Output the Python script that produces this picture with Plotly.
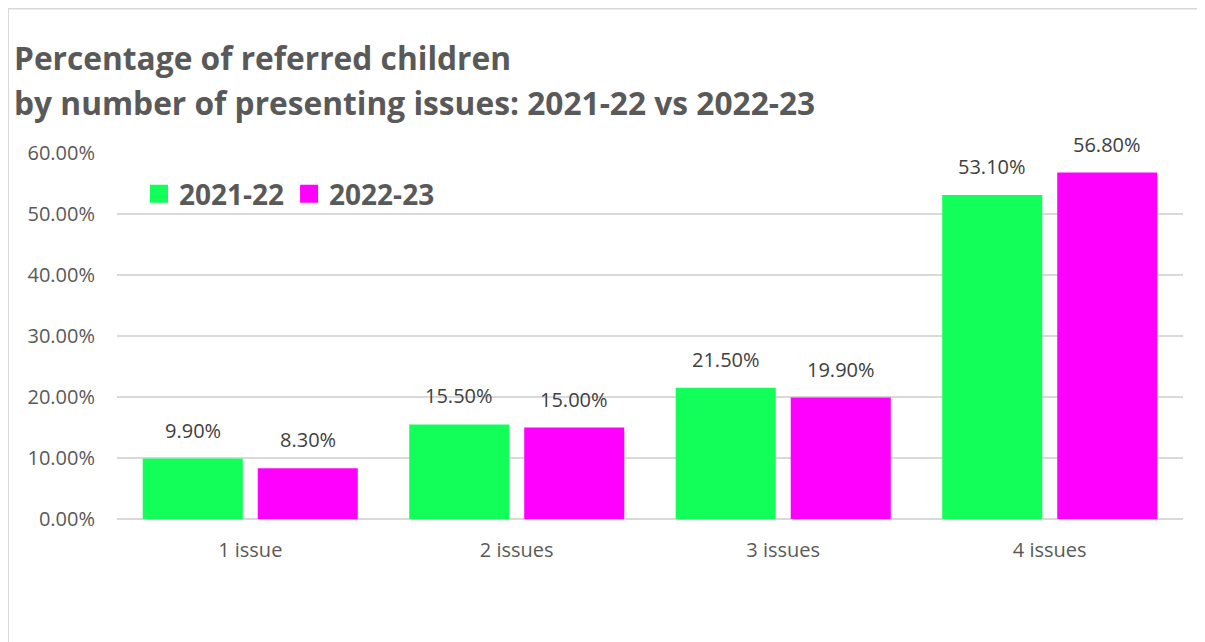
import plotly.graph_objects as go

categories = ["1 issue", "2 issues", "3 issues", "4 issues"]
series_names = ["2021-22", "2022-23"]
values_2021_22 = [9.9, 15.5, 21.5, 53.1]
values_2022_23 = [8.3, 15.0, 19.9, 56.8]
colors = ["#12FF5A", "#FF00FF"]
title_lines = ["Percentage of referred children",
               "by number of presenting issues: 2021-22 vs 2022-23"]

W, H = 1205, 642
OFF = 8  # page body offset
L, R, T, B = 117 - OFF, 30, 153 - OFF, 642 - (519 - OFF)
pw, ph = W - L - R, H - T - B

def px_x(p):  # page px -> paper
    return (p - OFF - L) / pw

def px_y(p):
    return (H - B - (p - OFF)) / ph

FONT = "Open Sans"
BARGAP, GROUPGAP = 0.137, 0.13
cat_w = pw / len(categories)
slot = (1 - BARGAP) * cat_w / 2

fig = go.Figure()
all_vals = [values_2021_22, values_2022_23]
for i, (name, vals, col) in enumerate(zip(series_names, all_vals, colors)):
    fig.add_trace(go.Bar(
        x=categories, y=vals, name=name, showlegend=False,
        marker=dict(color=col, line=dict(width=0)),
    ))
for name, col in zip(series_names, colors):
    fig.add_trace(go.Scatter(
        x=[categories[0]], y=[None], name=name, mode="markers",
        marker=dict(symbol="square", size=16, color=col, line=dict(color=col, width=2)),
        hoverinfo="skip",
    ))

annotations = []
for i, vals in enumerate(all_vals):
    shift = (i - 0.5) * slot
    for c, v in zip(categories, vals):
        annotations.append(dict(
            x=c, y=v, xref="x", yref="y", text=f"{v:.2f}%", showarrow=False,
            xanchor="center", yanchor="bottom", xshift=shift, yshift=13,
            font=dict(family=FONT, size=20, color="#404040"),
        ))
title_baselines = [70, 115]
for line, base in zip(title_lines, title_baselines):
    annotations.append(dict(
        x=px_x(12), y=px_y(base + 11), xref="paper", yref="paper", text=f"<b>{line}</b>",
        showarrow=False, xanchor="left", yanchor="bottom",
        font=dict(family=FONT, size=31.7, color="#595959"),
    ))

fig.update_layout(
    width=W, height=H,
    margin=dict(l=L, r=R, t=T, b=B),
    paper_bgcolor="white", plot_bgcolor="white",
    barmode="group", bargap=BARGAP, bargroupgap=GROUPGAP,
    annotations=annotations,
    legend=dict(
        orientation="h", x=px_x(139), y=px_y(194), xanchor="left", yanchor="middle",
        font=dict(family=FONT, size=28, color="#595959", weight="bold"),
        bgcolor="rgba(0,0,0,0)", itemsizing="trace", traceorder="normal",
    ),
    xaxis=dict(
        showgrid=False, showline=False, ticks="",
        tickfont=dict(family=FONT, size=20, color="#595959"),
        ticklabelstandoff=17,
    ),
    yaxis=dict(
        range=[0, 60], dtick=10, tickformat=".2f", ticksuffix="%",
        showgrid=True, gridcolor="#D9D9D9", gridwidth=1.5,
        zeroline=True, zerolinecolor="#D9D9D9", zerolinewidth=1.5,
        tickfont=dict(family=FONT, size=20, color="#595959"),
        ticklabelstandoff=21,
    ),
    shapes=[
        dict(type="line", xref="paper", yref="paper",
             x0=px_x(8), x1=px_x(8), y0=px_y(8.5), y1=px_y(660),
             line=dict(color="#D9D9D9", width=2)),
        dict(type="line", xref="paper", yref="paper",
             x0=px_x(8), x1=px_x(1220), y0=px_y(8.5), y1=px_y(8.5),
             line=dict(color="#D9D9D9", width=2)),
    ],
)

fig.write_html("out.html")
